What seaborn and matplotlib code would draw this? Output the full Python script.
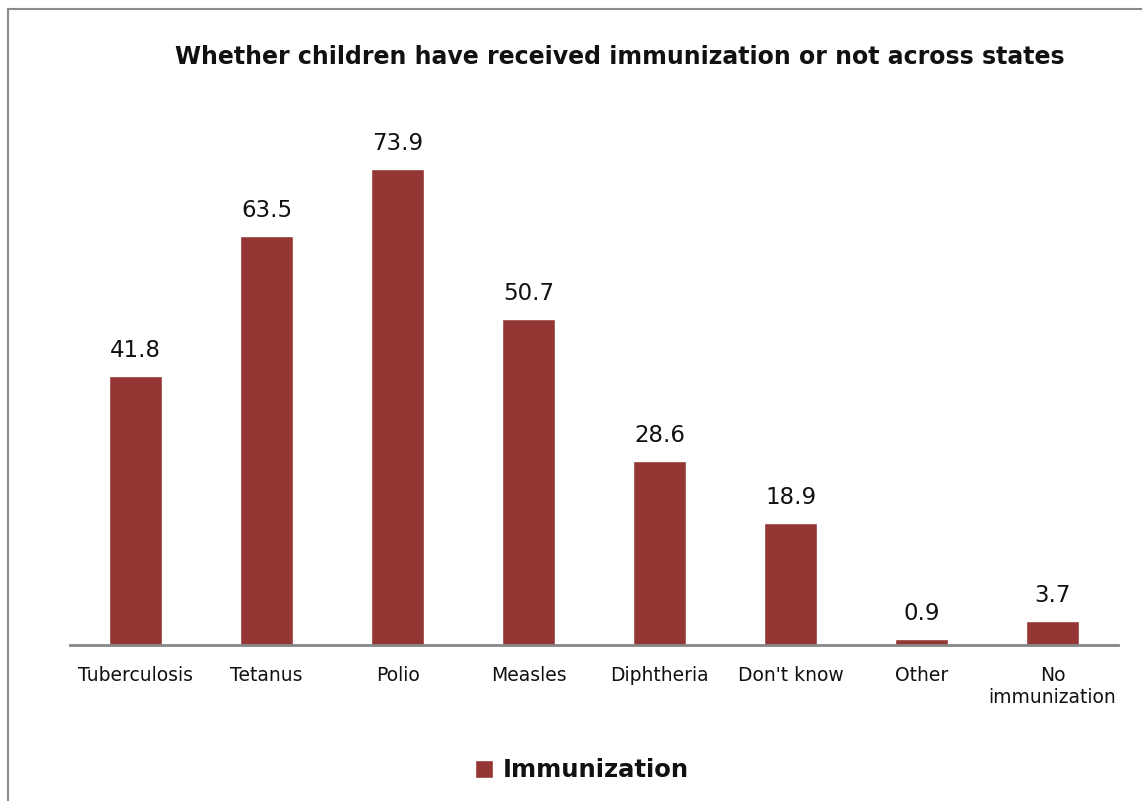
import matplotlib
matplotlib.use("Agg")
import matplotlib.pyplot as plt
import seaborn as sns
import pandas as pd
from matplotlib.patches import Rectangle

categories = ["Tuberculosis", "Tetanus", "Polio", "Measles", "Diphtheria",
              "Don't know", "Other", "No\nimmunization"]
values = [41.8, 63.5, 73.9, 50.7, 28.6, 18.9, 0.9, 3.7]
series_name = "Immunization"
title = "Whether children have received immunization or not across states"

sns.set_theme(style="white")
plt.rcParams['font.family'] = ['DejaVu Sans']

df = pd.DataFrame({"category": categories, "value": values})

fig = plt.figure(figsize=(11.42, 8.01), dpi=100)
ax = fig.add_axes([0.0613, 0.1948, 0.9177, 0.6429])

color = "#943634"
sns.barplot(data=df, x="category", y="value", color=color, width=0.4,
            saturation=1, ax=ax, label=series_name)

ax.set_ylim(0, 80)
ax.set_xlim(-0.5, len(categories) - 0.5)
ax.set_yticks([])
ax.set_xlabel("")
ax.set_ylabel("")
for s in ["top", "right", "left"]:
    ax.spines[s].set_visible(False)
ax.spines["bottom"].set_color("#868686")
ax.spines["bottom"].set_linewidth(2)
ax.tick_params(axis="x", length=0, labelsize=13.5, pad=15, colors="#111111")

for c in ax.containers:
    ax.bar_label(c, labels=[f"{v:.1f}" for v in values], padding=10,
                 fontsize=16.5, color="#111111")

fig.text(0.543, 0.929, title, ha="center", va="center", fontsize=17,
         fontweight="bold", color="#111111")

leg = ax.legend(loc="center", bbox_to_anchor=(0.4885, -0.243), frameon=False,
                fontsize=17.5, handlelength=0.75, handleheight=0.75,
                handletextpad=0.4)
for t in leg.get_texts():
    t.set_fontweight("bold")
    t.set_color("#111111")

fig.patches.append(Rectangle((8 / 1142, -0.01), 1.02, (801 - 9) / 801 + 0.01,
                             transform=fig.transFigure, fill=False,
                             edgecolor="#8a8a8a", linewidth=1.5, zorder=0))

fig.savefig("out.png", dpi=100, facecolor="white")
